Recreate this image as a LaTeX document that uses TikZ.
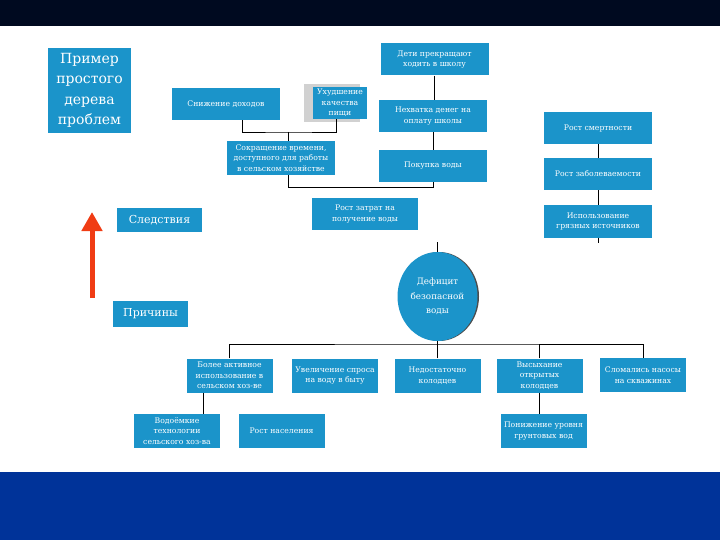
\documentclass[tikz,border=0pt]{standalone}
\usepackage{fontspec}
\setmainfont{DejaVu Serif}
\usetikzlibrary{arrows.meta,shapes.geometric}
\definecolor{boxblue}{RGB}{27,148,202}
\definecolor{topband}{RGB}{0,10,32}
\definecolor{bottomband}{RGB}{0,51,153}
\definecolor{arrowred}{RGB}{240,60,20}
\tikzset{
  box/.style={fill=boxblue,text=white,align=center,inner sep=1pt,
    font=\fontsize{7.7}{10.5}\selectfont},
  sidebox/.style={box,font=\fontsize{11}{12}\selectfont},
  wide/.style={minimum width=108pt,minimum height=32pt},
  narrow/.style={minimum width=86pt,minimum height=34pt},
  wire/.style={draw=black,line width=0.8pt},
}
\begin{document}
\begin{tikzpicture}[x=1pt,y=-1pt]
  \useasboundingbox (0,0) rectangle (720,540);
  \fill[topband] (0,0) rectangle (720,26);
  \fill[bottomband] (0,472) rectangle (720,540);

  % title and side labels
  \node[box,minimum width=83pt,minimum height=85pt,font=\fontsize{14}{20.5}\selectfont]
    (title) at (89.5,90.5) {Пример\\простого\\дерева\\проблем};
  \node[sidebox,minimum width=85pt,minimum height=24pt] (sledst) at (159.5,220) {Следствия};
  \node[sidebox,minimum width=75pt,minimum height=26pt] (prich) at (150.5,314) {Причины};
  \coordinate (arrtail) at (92,298);
  \coordinate (arrhead) at (92,212);
  \draw[arrowred,line width=5pt,-{Triangle[width=20pt,length=19pt]}] (arrtail) -- (arrhead);

  % consequences
  \node[box,wide] (snizh) at (226,104) {Снижение доходов};
  \fill[black!18] (304,84) rectangle (360,122);
  \node[box,minimum width=54pt,minimum height=32pt] (uhud) at (340,103) {Ухудшение\\качества\\пищи};
  \node[box,wide] (deti) at (434.5,59.5) {Дети прекращают\\ходить в школу};
  \node[box,wide] (nehv) at (433,116) {Нехватка денег на\\оплату школы};
  \node[box,wide] (pokup) at (433,166) {Покупка воды};
  \node[box,wide] (smert) at (598,128) {Рост смертности};
  \node[box,wide] (zabol) at (598,174) {Рост заболеваемости};
  \node[box,wide] (grjaz) at (598,221.5) {Использование\\грязных источников};
  \node[box,minimum width=108pt,minimum height=34pt] (sokr) at (281,158)
    {Сокращение времени,\\доступного для работы\\в сельском хозяйстве};
  \node[box,minimum width=106pt,minimum height=32pt] (zatr) at (365,214) {Рост затрат на\\получение воды};

  % core problem
  \fill[black!70] (439,296.5) ellipse (40pt and 44.5pt);
  \node[box,ellipse,inner sep=0pt,minimum width=80pt,minimum height=89pt,
    font=\fontsize{8.8}{14.5}\selectfont] (defic) at (437.5,296.5) {Дефицит\\безопасной\\воды};

  % causes
  \node[box,narrow] (aktiv) at (229.5,375.5) {Более активное\\использование в\\сельском хоз-ве};
  \node[box,narrow] (spros) at (335,375.5) {Увеличение спроса\\на воду в быту};
  \node[box,narrow] (nedost) at (437.5,375.5) {Недостаточно\\колодцев};
  \node[box,narrow] (vysyh) at (539.5,375.5) {Высыхание\\открытых\\колодцев};
  \node[box,narrow] (slom) at (643,375) {Сломались насосы\\на скважинах};
  \node[box,narrow] (vodoem) at (177,431) {Водоёмкие\\технологии\\сельского хоз-ва};
  \node[box,narrow] (naselen) at (281.5,431) {Рост населения};
  \node[box,narrow] (ponizh) at (543.5,431) {Понижение уровня\\грунтовых вод};

  % connectors
  \coordinate (j1) at (288,132);
  \coordinate (j2) at (288,187);
  \coordinate (stub1) at (598,243);
  \coordinate (stub2) at (438,242);
  \coordinate (bus) at (437.5,344);
  \draw[wire] ([xshift=16pt]snizh.south) |- (j1) -| ([xshift=-4pt]uhud.south);
  \draw[wire] (j1) -- (j1 |- sokr.north);
  \draw[wire] (j2 |- sokr.south) -- (j2) -| (pokup.south);
  \draw[wire] (deti.south) -- (deti.south |- nehv.north);
  \draw[wire] (nehv.south) -- (nehv.south |- pokup.north);
  \draw[wire] (smert.south) -- (smert.south |- zabol.north);
  \draw[wire] (zabol.south) -- (zabol.south |- grjaz.north);
  \draw[wire] (grjaz.south) -- (grjaz.south |- stub1);
  \draw[wire] (defic.north) -- (defic.north |- stub2);
  \draw[wire] (defic.south) -- (bus);
  \draw[wire] (aktiv.north) |- (bus) -| (slom.north);
  \draw[wire] (nedost.north) -- (nedost.north |- bus);
  \draw[wire] (vysyh.north) -- (vysyh.north |- bus);
  \draw[wire] ([xshift=-26pt]aktiv.south) -- ([xshift=-26pt]aktiv.south |- vodoem.north);
  \draw[wire] (vysyh.south) -- (vysyh.south |- ponizh.north);
\end{tikzpicture}
\end{document}
